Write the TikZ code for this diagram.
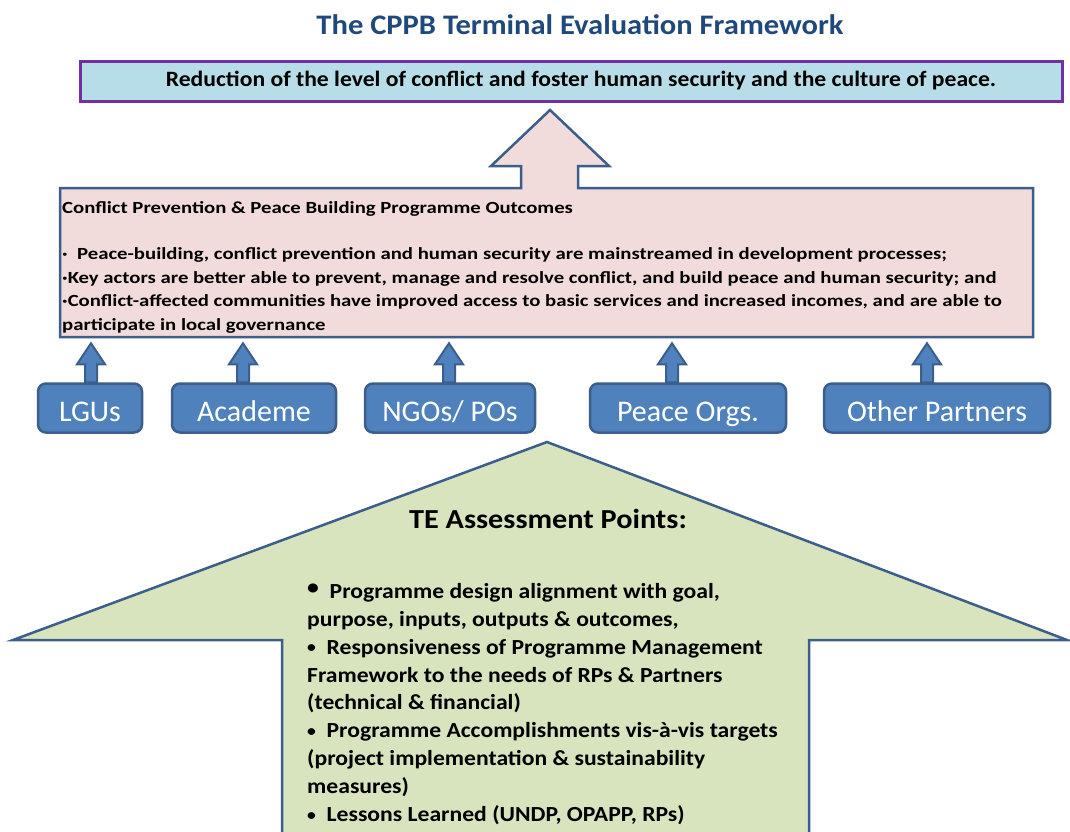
\documentclass[tikz,border=0pt]{standalone}
\usepackage{fontspec}
\setmainfont{Carlito}
\newfontfamily\headfont[FakeStretch=1.08]{Carlito}
\newfontfamily\outcomefont[FakeStretch=1.22]{Carlito}
\newfontfamily\pointfont[FakeStretch=1.1]{Carlito}
\usetikzlibrary{positioning}

\definecolor{titleblue}{HTML}{1F497D}
\definecolor{goalfill}{HTML}{B7DEE8}
\definecolor{goaledge}{HTML}{7030A0}
\definecolor{outcomefill}{HTML}{F2DCDB}
\definecolor{edgeblue}{HTML}{3B5E8C}
\definecolor{partnerblue}{HTML}{4F81BD}
\definecolor{pointfill}{HTML}{D7E4BD}

% small block arrow from a partner box up towards the outcomes
\newcommand{\feedarrow}[2]{%
	\draw [feed] ([xshift=#2]#1.north) ++(-6,0) -- ++(0,18) -- ++(-8,0) -- ++(14,21) -- ++(14,-21) -- ++(-8,0) -- ++(0,-18) -- cycle;}
% smaller bullet for the assessment points
\newcommand{\pointdot}{{\fontsize{16}{16}\selectfont\raisebox{1.5pt}{\textbullet}}\ \ }

\begin{document}
\begin{tikzpicture}[line join=miter,x=1pt,y=1pt,
	partner/.style={draw=edgeblue,line width=2.5pt,fill=partnerblue,rounded corners=8pt,minimum height=49pt,inner sep=0pt,text height=26pt,text depth=0pt,text=white,font=\fontsize{30}{34}\selectfont},
	feed/.style={draw=edgeblue,line width=2pt,fill=partnerblue},
	bigarrow/.style={draw=edgeblue,line width=2.5pt},
	points/.style={anchor=north west,inner sep=0pt,align=left,font=\pointfont\bfseries\fontsize{21.5}{27.9}\selectfont}]
				\clip (0,0) rectangle (1070,-831);
				% title and goal
				\node [text=titleblue,font=\headfont\bfseries\fontsize{28.3}{32}\selectfont] (title) at (580,-25) {The CPPB Terminal Evaluation Framework};
				\node [draw=goaledge,line width=3pt,fill=goalfill,minimum width=982pt,minimum height=40pt,inner sep=0pt] (goal) at (571,-81) {};
				\node [font=\headfont\bfseries\fontsize{21.9}{26}\selectfont] (goaltext) at (581,-81) {Reduction of the level of conflict and foster human security and the culture of peace.};
				% outcomes box with its arrow
				\draw [bigarrow,fill=outcomefill] (60,-188) -- (521,-188) -- (521,-166) -- (491,-166) -- (550,-110) -- (609,-166) -- (578,-166) -- (578,-188) -- (1033,-188) -- (1033,-337) -- (60,-337) -- cycle;
				\node [anchor=north west,inner sep=0pt,align=left,font=\outcomefont\bfseries\fontsize{17}{23.4}\selectfont] (outcomes) at (62,-201) {Conflict Prevention \& Peace Building Programme Outcomes\\[23.4pt]
					·\ \ Peace-building, conflict prevention and human security are mainstreamed in development processes;\\
					·Key actors are better able to prevent, manage and resolve conflict, and build peace and human security; and\\
					·Conflict-affected communities have improved access to basic services and increased incomes, and are able to\\
					participate in local governance};
				% partners
				\node [partner,minimum width=104pt] (lgu) at (90,-408) {LGUs};
				\node [partner,minimum width=164pt] (academe) at (254,-408) {Academe};
				\node [partner,minimum width=170pt] (ngo) at (450,-408) {NGOs/ POs};
				\node [partner,minimum width=196pt] (peace) at (688,-408) {Peace Orgs.};
				\node [partner,minimum width=226pt] (other) at (937,-408) {Other Partners};
				\feedarrow{lgu}{1}
				\feedarrow{academe}{-11}
				\feedarrow{ngo}{-1}
				\feedarrow{peace}{-16}
				\feedarrow{other}{-10}
				% assessment points
				\draw [bigarrow,fill=pointfill] (282,-850) -- (282,-640) -- (13,-640) -- (547,-442) -- (1067,-640) -- (809,-640) -- (809,-850);
				\node [font=\pointfont\bfseries\fontsize{27.5}{31}\selectfont] (te) at (548,-519) {TE Assessment Points:};
				\node [points] (list) at (307,-583) {\raisebox{4pt}{\textbullet}\ \ Programme design alignment with goal,\\
					purpose, inputs, outputs \& outcomes,\\
					\pointdot Responsiveness of Programme Management\\
					Framework to the needs of RPs \& Partners\\
					(technical \& financial)\\
					\pointdot Programme Accomplishments vis-à-vis targets\\
					(project implementation \& sustainability\\
					measures)\\
					\pointdot Lessons Learned (UNDP, OPAPP, RPs)};
			\end{tikzpicture}
\end{document}
